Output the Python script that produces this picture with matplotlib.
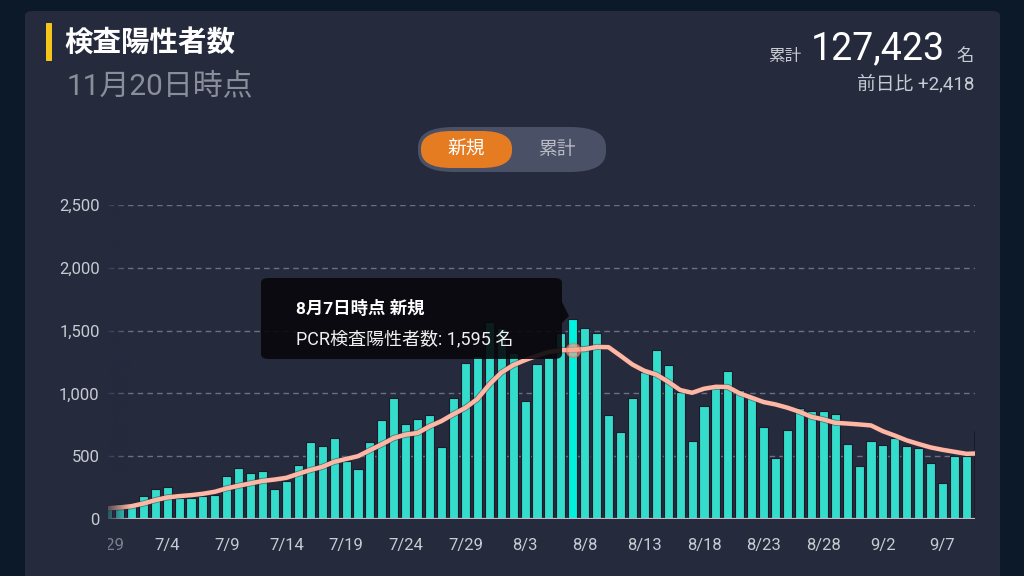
import numpy as np
import matplotlib.pyplot as plt
import matplotlib.patheffects as pe
from matplotlib.patches import FancyBboxPatch, Polygon
from matplotlib.transforms import Bbox, TransformedBbox

plt.rcParams['font.family'] = ['Roboto', 'Noto Sans CJK JP', 'DejaVu Sans']

# =========================
# データ (6/29 から 1日ごと)
# =========================
new_cases = [100, 118, 108, 186, 240, 256, 166, 168, 180, 195,
             344, 410, 364, 385, 240, 305, 433, 611, 579, 647,
             458, 402, 611, 788, 963, 760, 797, 827, 576, 963,
             1240, 1300, 1570, 1520, 1320, 936, 1235, 1290, 1478, 1595,
             1518, 1482, 831, 690, 965, 1169, 1347, 1229, 1011, 625,
             899, 1077, 1176, 1024, 971, 734, 484, 708, 880, 862,
             862, 835, 595, 422, 624, 589, 645, 581, 564, 445,
             284, 503, 503, 704]

avg7 = [85, 92, 102, 123, 150, 172, 182, 190, 201, 217,
        244, 265, 284, 303, 314, 328, 360, 390, 415, 455,
        478, 500, 548, 595, 645, 672, 685, 738, 780, 835,
        885, 955, 1070, 1165, 1225, 1265, 1300, 1330, 1343, 1347,
        1352, 1370, 1368, 1300, 1230, 1180, 1150, 1093, 1027, 1005,
        1037, 1053, 1051, 1000, 966, 931, 912, 886, 854, 814,
        793, 766, 760, 753, 745, 699, 664, 626, 597, 570,
        551, 535, 519, 522]

tick_idx = [0, 5, 10, 15, 20, 25, 30, 35, 40, 45, 50, 55, 60, 65, 70]
tick_labels = ['6/29', '7/4', '7/9', '7/14', '7/19', '7/24', '7/29', '8/3',
               '8/8', '8/13', '8/18', '8/23', '8/28', '9/2', '9/7']
y_ticks = [0, 500, 1000, 1500, 2000, 2500]
y_tick_labels = ['0', '500', '1,000', '1,500', '2,000', '2,500']

hl = 39  # 8月7日

# =========================
# 色
# =========================
outer_bg = '#0b1929'
card_bg = '#252a3d'
bar_col = '#33dccb'
bar_hl = '#00f2de'
line_col = '#ffb7a5'
grid_col = '#6c7080'
label_col = '#c9cbd3'

W, H = 1024, 576


def fx(x):
    return x / W


def fy(y):
    return 1 - y / H


fig = plt.figure(figsize=(W / 100, H / 100), dpi=100, facecolor=outer_bg)

# カード背景
card = FancyBboxPatch((fx(25), fy(600)), fx(975), 589 / H,
                      boxstyle='round,pad=0,rounding_size=0.008',
                      transform=fig.transFigure, facecolor=card_bg,
                      edgecolor='none', zorder=-10)
fig.add_artist(card)

# =========================
# ヘッダー
# =========================
fig.add_artist(FancyBboxPatch((fx(46), fy(61)), fx(6), 38 / H,
                              boxstyle='round,pad=0,rounding_size=0.001',
                              transform=fig.transFigure, facecolor='#f4c51a',
                              edgecolor='none', zorder=2))
fig.text(fx(64), fy(43), '検査陽性者数', fontsize=20.5, fontweight='bold',
         color='white', va='center', ha='left')
fig.text(fx(67), fy(86), '11月20日時点', fontsize=21.5, color='#8b8e9a',
         va='center', ha='left')

fig.text(fx(801), fy(56), '累計', fontsize=12, color=label_col,
         va='center', ha='right')
fig.text(fx(811), fy(49), '127,423', fontsize=27, color='white',
         va='center', ha='left')
fig.text(fx(974), fy(56), '名', fontsize=12.5, color=label_col,
         va='center', ha='right')
fig.text(fx(974), fy(84), '前日比 +2,418', fontsize=13.5, color=label_col,
         va='center', ha='right')

# 切り替えボタン
fig.add_artist(FancyBboxPatch((fx(418), fy(172)), fx(188), 45 / H,
                              boxstyle='round,pad=0,rounding_size=0.035',
                              transform=fig.transFigure, facecolor='#4a5066',
                              edgecolor='none', zorder=2, mutation_aspect=H / W * 1.78))
fig.add_artist(FancyBboxPatch((fx(421), fy(168)), fx(91), 37 / H,
                              boxstyle='round,pad=0,rounding_size=0.03',
                              transform=fig.transFigure, facecolor='#e57c22',
                              edgecolor='none', zorder=3, mutation_aspect=H / W * 1.78))
fig.text(fx(466), fy(150), '新規', fontsize=13.5, color='white',
         va='center', ha='center', zorder=4)
fig.text(fx(557), fy(150), '累計', fontsize=13.5, color='#b8bac4',
         va='center', ha='center', zorder=4)

# =========================
# グラフ
# =========================
ax = fig.add_axes([fx(108), fy(519), fx(975 - 108), (519 - 205) / H])
ax.set_facecolor('none')

x = np.arange(len(new_cases))
colors = [bar_hl if i == hl else bar_col for i in x]
ax.bar(x, new_cases, width=0.76, color=colors, edgecolor='#1b1a2b',
       linewidth=0.8, zorder=2)

ax.plot(x, avg7, color=line_col, linewidth=3.2, zorder=3,
        solid_capstyle='round', solid_joinstyle='round',
        path_effects=[pe.Stroke(linewidth=4.4, foreground='#3a2a38', alpha=0.5),
                      pe.Normal()])
ax.plot(x[hl], avg7[hl], marker='o', ms=10, mfc='#ff9f8a', mec='#e8755f',
        mew=1.2, alpha=0.6, zorder=4)

ax.axhline(0, color='#b9bcc6', linewidth=1.6, zorder=4)

ax.set_yticks(y_ticks)
ax.set_yticklabels(y_tick_labels)
# 先頭(6/29)は左が切れて見えるので別に描く
ax.set_xticks(tick_idx[1:])
ax.set_xticklabels(tick_labels[1:])
ax.tick_params(axis='both', length=0, labelsize=12, colors=label_col)
ax.tick_params(axis='x', pad=14)
ax.tick_params(axis='y', pad=6)
ax.yaxis.grid(True, color=grid_col, linestyle=(0, (4, 3)), linewidth=1.0)
ax.set_axisbelow(True)
for s in ax.spines.values():
    s.set_visible(False)

# 左端のフェード
fade = np.zeros((1, 60, 4))
rgb = np.array([0x25, 0x2a, 0x3d]) / 255
fade[..., :3] = rgb
fade[..., 3] = np.linspace(0.75, 0.0, 60)
ax.imshow(fade, extent=[0.04, 1.9, 0, 2500], aspect='auto', zorder=5)
ax.set_xlim(0.04, 72.72)
ax.set_ylim(0, 2500)

x0 = ax.transData.transform((tick_idx[0], 0))[0]
first = fig.text(x0 / fig.dpi / fig.get_figwidth(), fy(538), tick_labels[0],
                 fontsize=12, color='#7d808c', ha='center', va='top')
first.set_clip_box(TransformedBbox(Bbox([[fx(108), 0], [1, fy(519)]]),
                                   fig.transFigure))
first.set_clip_on(True)

# =========================
# ツールチップ
# =========================
fig.add_artist(FancyBboxPatch((fx(261), fy(359)), fx(301), 81 / H,
                              boxstyle='round,pad=0,rounding_size=0.008',
                              transform=fig.transFigure, facecolor='#07070c',
                              edgecolor='none', alpha=0.9, zorder=5))
fig.add_artist(Polygon([[fx(561), fy(300)], [fx(569), fy(316)], [fx(561), fy(324)]],
                       closed=True, transform=fig.transFigure,
                       facecolor='#07070c', edgecolor='none', alpha=0.9, zorder=5))
fig.text(fx(296), fy(308), '8月7日時点 新規', fontsize=12.5, fontweight='bold',
         color='white', va='center', ha='left', zorder=6)
fig.text(fx(296), fy(339), 'PCR検査陽性者数: 1,595 名', fontsize=13,
         color='#f0f0f0', va='center', ha='left', zorder=6)

fig.savefig('out.png', dpi=100, facecolor=outer_bg)
